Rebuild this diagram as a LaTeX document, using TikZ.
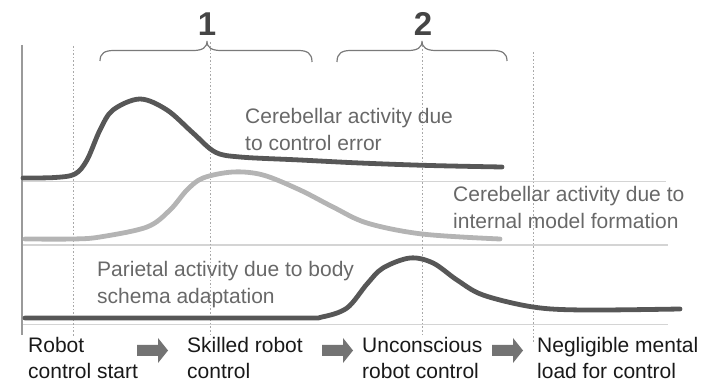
\documentclass[tikz,border=0pt]{standalone}
\usepackage{fontspec}
\setmainfont{Liberation Sans}
\definecolor{darkcurve}{HTML}{575757}
\definecolor{lightcurve}{HTML}{B4B4B4}
\definecolor{gridgray}{HTML}{D4D4D4}
\definecolor{axisgray}{HTML}{9A9A9A}
\definecolor{dotgray}{HTML}{A8A8A8}
\definecolor{labelgray}{HTML}{686868}
\definecolor{arrowgray}{HTML}{737373}
\definecolor{bracegray}{HTML}{7A7A7A}
\definecolor{numgray}{HTML}{454545}
\begin{document}
\begin{tikzpicture}[x=1pt,y=-1pt,
  gridline/.style={draw=gridgray,line width=1.1pt},
  phaseline/.style={draw=dotgray,line width=0.9pt,dash pattern=on 1.6pt off 2pt},
  darktrace/.style={draw=darkcurve,line width=4.8pt,line cap=round,line join=round},
  lighttrace/.style={draw=lightcurve,line width=4.8pt,line cap=round,line join=round},
  curvelabel/.style={anchor=north west,inner sep=0pt,align=left,text=labelgray,
    font=\fontsize{21}{27}\selectfont},
  stagelabel/.style={anchor=north west,inner sep=0pt,align=left,text=black!90,
    font=\fontsize{21}{26}\selectfont},
  phasenum/.style={anchor=base,inner sep=0pt,text=numgray,
    font=\fontsize{33}{33}\selectfont\bfseries},
  bracepath/.style={draw=bracegray,line width=1.2pt},
  stagearrow/.style={fill=arrowgray}]
\useasboundingbox (0,0) rectangle (710,379);

% baseline levels of the three traces
\draw[gridline] (22,181.5) -- (666,181.5);
\draw[gridline] (22,245) -- (668,245);
\draw[gridline] (22,324.5) -- (668,324.5);

% time axis start
\draw[draw=axisgray,line width=1.4pt] (22,45) -- (22,335);

% phase boundaries
\draw[phaseline] (73,46) -- (73,337);
\draw[phaseline] (210,42) -- (210,336);
\draw[phaseline] (422,42) -- (422,336);
\draw[phaseline] (533,52) -- (533,343);

% phase braces
\draw[bracepath] (100,61) .. controls (100,53) and (105,50.5) .. (114,50.5)
  -- (193,50.5) .. controls (202,50.5) and (207,48) .. (207,41)
  .. controls (207,48) and (212,50.5) .. (221,50.5)
  -- (298,50.5) .. controls (307,50.5) and (312,53) .. (312,62);
\draw[bracepath] (337,62) .. controls (337,53) and (342,50.5) .. (351,50.5)
  -- (408,50.5) .. controls (417,50.5) and (422,48) .. (422,41)
  .. controls (422,48) and (427,50.5) .. (436,50.5)
  -- (493,50.5) .. controls (502,50.5) and (507,53) .. (507,61);
\node[phasenum] (n1) at (207,36) {1};
\node[phasenum] (n2) at (423,36) {2};

% cerebellar activity due to control error
\draw[darktrace] plot[smooth,tension=0.55] coordinates {
  (23,178) (55,177.5) (75,174) (87,160) (100,130) (113,110) (140,99)
  (167,110) (193,133) (215,152) (240,157) (300,160) (360,163) (430,165.5) (502,167)};

% cerebellar activity due to internal model formation
\draw[lighttrace] plot[smooth,tension=0.55] coordinates {
  (25,239) (73,239) (100,237) (147,227) (170,210) (187,190) (203,178)
  (233,172) (263,175) (300,190) (333,207) (367,223) (422,234) (500,239)};

% parietal activity due to body schema adaptation
\draw[darktrace] plot[smooth,tension=0.55] coordinates {
  (25,318) (150,318) (300,318) (322,317) (347,308) (367,284) (383,268)
  (410,258) (433,263) (457,280) (483,295) (533,307) (583,310) (680,309)};

% trace labels
\node[curvelabel] (l1) at (245,108.5) {Cerebellar activity due\\to control error};
\node[curvelabel] (l2) at (453,186) {Cerebellar activity due to\\internal model formation};
\node[curvelabel] (l3) at (97,261.5) {Parietal activity due to body\\schema adaptation};

% stages of robot control
\node[stagelabel] (s1) at (28,337) {Robot\\control start};
\node[stagelabel] (s2) at (187,337) {Skilled robot\\control};
\node[stagelabel] (s3) at (362,337) {Unconscious\\robot control};
\node[stagelabel] (s4) at (537,337) {Negligible mental\\load for control};

% block arrows between stages
\foreach \ax in {137,322,492}{
  \fill[stagearrow] (\ax,345) -- (\ax+21,345) -- (\ax+21,338) -- (\ax+31,350.5)
    -- (\ax+21,363) -- (\ax+21,356) -- (\ax,356) -- cycle;
}
\end{tikzpicture}
\end{document}
